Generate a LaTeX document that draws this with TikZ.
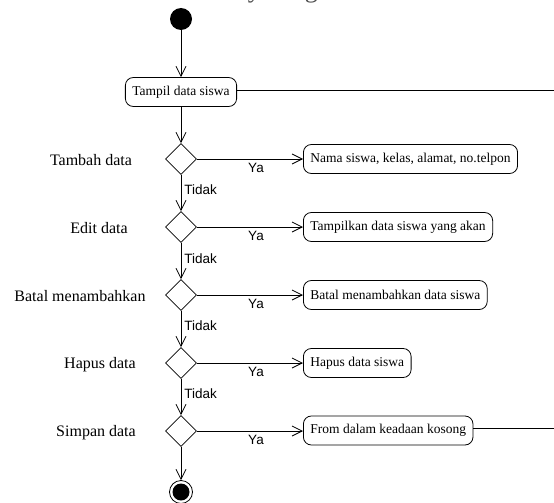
\documentclass[tikz,border=0pt]{standalone}
\usepackage{fontspec}
\setmainfont{Liberation Serif}
\newfontfamily\arialf{Liberation Sans}
\usetikzlibrary{shapes.geometric,arrows.meta}
\begin{document}
\begin{tikzpicture}[x=1pt,y=-1pt,
  line width=0.8pt,
  >={Straight Barb[length=10pt,width=10pt]},
  act/.style={draw, rounded corners=8pt, minimum height=29pt, inner xsep=7pt, inner ysep=2pt, font=\fontsize{13.5}{15}\selectfont},
  dec/.style={draw, diamond, minimum size=31pt, inner sep=0pt},
  lbl/.style={font=\fontsize{16}{18}\selectfont, inner sep=0pt},
  yes/.style={font=\arialf\fontsize{13.5}{15}\selectfont, inner sep=0pt},
]
\useasboundingbox (0,0) rectangle (554,503);
\node[font=\fontsize{26}{28}\selectfont, anchor=base west, text=gray!60!black, inner sep=0pt] (title) at (46,-2) {Gambar 3.6 Activity Diagram Kelola Siswa};

\node[circle, fill=black, minimum size=22pt, inner sep=0pt] (start) at (181,19) {};
\node[act] (tampil) at (181,92) {Tampil data siswa};

\node[dec] (d1) at (181,159) {};
\node[dec] (d2) at (181,227) {};
\node[dec] (d3) at (181,295) {};
\node[dec] (d4) at (181,363) {};
\node[dec] (d5) at (181,431) {};

\node[act, anchor=west] (b1) at (303,159) {Nama siswa, kelas, alamat, no.telpon};
\node[act, anchor=west] (b2) at (303,227) {Tampilkan data siswa yang akan};
\node[act, anchor=west] (b3) at (303,295) {Batal menambahkan data siswa};
\node[act, anchor=west] (b4) at (303,363) {Hapus data siswa};
\node[act, anchor=west] (b5) at (303,430.5) {From dalam keadaan kosong};

\node[lbl] (l1) at (91,160.5) {Tambah data};
\node[lbl] (l2) at (99,228.5) {Edit data};
\node[lbl] (l3) at (80,296.5) {Batal menambahkan};
\node[lbl] (l4) at (100,364.5) {Hapus data};
\node[lbl] (l5) at (96,432.5) {Simpan data};

\node[yes] (y1) at (256,168) {Ya};
\node[yes] (y2) at (256,236) {Ya};
\node[yes] (y3) at (256,304) {Ya};
\node[yes] (y4) at (256,372) {Ya};
\node[yes] (y5) at (256,440) {Ya};

\node[yes, anchor=west] (t1) at (184,190) {Tidak};
\node[yes, anchor=west] (t2) at (184,258.5) {Tidak};
\node[yes, anchor=west] (t3) at (184,326) {Tidak};
\node[yes, anchor=west] (t4) at (184,394) {Tidak};

\node[circle, draw, minimum size=23pt, inner sep=0pt] (endc) at (181,492) {};
\node[circle, fill=black, minimum size=17pt, inner sep=0pt] (endin) at (endc) {};

\draw[->] (start) -- (tampil);
\draw[->] (tampil) -- (d1);
\draw[->] (d1) -- (d2);
\draw[->] (d2) -- (d3);
\draw[->] (d3) -- (d4);
\draw[->] (d4) -- (d5);
\draw[->] (d5) -- (endc);

\draw[->] (d1) -- (b1);
\draw[->] (d2) -- (b2);
\draw[->] (d3) -- (b3);
\draw[->] (d4) -- (b4);
\draw[->] (d5.east) -- (d5.east -| b5.west);

\coordinate (r1) at (554,90);
\coordinate (r2) at (554,428.5);
\draw (tampil.east |- r1) -- (r1);
\draw (b5.east |- r2) -- (r2);
\end{tikzpicture}
\end{document}
